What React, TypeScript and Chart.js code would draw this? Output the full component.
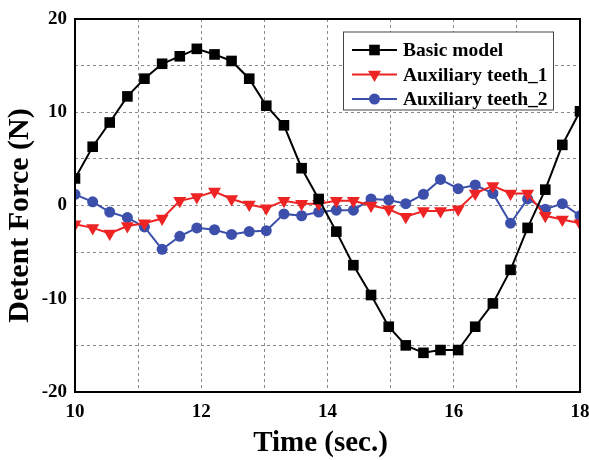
import React, { useEffect, useRef } from "react";
import { Chart, registerables } from "chart.js";

Chart.register(...registerables);

const timeSec = [
  10, 10.28, 10.55, 10.83, 11.1, 11.38, 11.66, 11.93, 12.21, 12.48,
  12.76, 13.03, 13.31, 13.59, 13.86, 14.14, 14.41, 14.69, 14.97, 15.24,
  15.52, 15.79, 16.07, 16.34, 16.62, 16.9, 17.17, 17.45, 17.72, 18,
];
const basicModel = [
  2.9, 6.3, 8.9, 11.7, 13.6, 15.2, 16.0, 16.8, 16.2, 15.5,
  13.6, 10.7, 8.6, 4.0, 0.7, -2.8, -6.4, -9.6, -13.0, -15.0,
  -15.8, -15.5, -15.5, -13.0, -10.5, -6.9, -2.4, 1.7, 6.5, 10.1,
];
const auxTeeth1 = [
  -2.0, -2.4, -3.0, -2.2, -1.9, -1.4, 0.5, 0.9, 1.5, 0.7,
  0.1, -0.3, 0.5, 0.2, 0.2, 0.5, 0.5, 0.0, -0.4, -1.2,
  -0.6, -0.6, -0.4, 1.3, 2.1, 1.3, 1.3, -1.1, -1.5, -1.9,
];
const auxTeeth2 = [
  1.2, 0.4, -0.7, -1.3, -2.3, -4.7, -3.3, -2.4, -2.6, -3.1,
  -2.8, -2.7, -0.9, -1.1, -0.7, -0.5, -0.5, 0.7, 0.6, 0.2,
  1.2, 2.8, 1.8, 2.2, 1.3, -1.9, 0.7, -0.4, 0.2, -1.1,
];
const seriesNames = ["Basic model", "Auxiliary teeth_1", "Auxiliary teeth_2"];
const xTitle = "Time (sec.)";
const yTitle = "Detent Force (N)";

const FONT = "'Liberation Serif', 'Times New Roman', serif";

const framePlugin = {
  id: "frame",
  afterDatasetsDraw(chart: any) {
    const { ctx, chartArea: a } = chart;
    ctx.save();
    ctx.strokeStyle = "#000";
    ctx.lineWidth = 2;
    ctx.strokeRect(a.left, a.top, a.right - a.left, a.bottom - a.top);
    ctx.restore();
  },
};

const titlesPlugin = {
  id: "titles",
  afterDraw(chart: any) {
    const { ctx, chartArea: a } = chart;
    ctx.save();
    ctx.fillStyle = "#000";
    ctx.font = `bold 29px ${FONT}`;
    ctx.textAlign = "center";
    ctx.textBaseline = "alphabetic";
    ctx.fillText(xTitle, (a.left + a.right) / 2 - 7, 451);
    ctx.translate(28, (a.top + a.bottom) / 2 + 10);
    ctx.rotate(-Math.PI / 2);
    ctx.font = `bold 30px ${FONT}`;
    ctx.fillText(yTitle, 0, 0);
    ctx.restore();
  },
};

function drawMarker(ctx: CanvasRenderingContext2D, ds: any, x: number, y: number) {
  const r = ds.pointRadius;
  ctx.beginPath();
  if (ds.pointStyle === "rect") {
    const s = Math.SQRT1_2 * r;
    ctx.rect(x - s, y - s, 2 * s, 2 * s);
  } else if (ds.pointStyle === "triangle") {
    ctx.moveTo(x, y + r);
    ctx.lineTo(x + Math.sin(Math.PI / 3) * r, y - r / 2);
    ctx.lineTo(x - Math.sin(Math.PI / 3) * r, y - r / 2);
    ctx.closePath();
  } else {
    ctx.arc(x, y, r, 0, Math.PI * 2);
  }
  ctx.fill();
}

const legendPlugin = {
  id: "boxLegend",
  afterDraw(chart: any) {
    const { ctx } = chart;
    const x0 = 343.5, y0 = 32, w = 210, h = 78;
    ctx.save();
    ctx.fillStyle = "#fff";
    ctx.fillRect(x0, y0, w, h);
    ctx.strokeStyle = "#444";
    ctx.lineWidth = 1;
    ctx.strokeRect(x0, y0, w, h);
    chart.data.datasets.forEach((ds: any, i: number) => {
      const cy = 50 + i * 24.5;
      ctx.strokeStyle = ds.borderColor;
      ctx.lineWidth = ds.borderWidth;
      ctx.beginPath();
      ctx.moveTo(352, cy);
      ctx.lineTo(397, cy);
      ctx.stroke();
      ctx.fillStyle = ds.pointBackgroundColor;
      drawMarker(ctx, ds, 374.5, cy);
      ctx.fillStyle = "#000";
      ctx.font = `bold 19.5px ${FONT}`;
      ctx.textAlign = "left";
      ctx.textBaseline = "middle";
      ctx.fillText(ds.label, 403, cy + 1);
    });
    ctx.restore();
  },
};

function toPoints(values: number[]) {
  return values.map((v, i) => ({ x: timeSec[i], y: v }));
}

export default function App() {
  const ref = useRef<HTMLCanvasElement | null>(null);

  useEffect(() => {
    if (!ref.current) return;
    const chart = new Chart(ref.current, {
      type: "line",
      data: {
        datasets: [
          {
            label: seriesNames[0],
            data: toPoints(basicModel),
            borderColor: "#000000",
            backgroundColor: "#000000",
            pointBackgroundColor: "#000000",
            pointBorderColor: "#000000",
            borderWidth: 2,
            pointStyle: "rect",
            pointRadius: 7.5,
            pointBorderWidth: 0,
            tension: 0,
          },
          {
            label: seriesNames[1],
            data: toPoints(auxTeeth1),
            borderColor: "#ee2424",
            backgroundColor: "#ee2424",
            pointBackgroundColor: "#ee2424",
            pointBorderColor: "#ee2424",
            borderWidth: 2,
            pointStyle: "triangle",
            pointRotation: 180,
            pointRadius: 7.5,
            pointBorderWidth: 0,
            tension: 0,
          },
          {
            label: seriesNames[2],
            data: toPoints(auxTeeth2),
            borderColor: "#3b4fab",
            backgroundColor: "#3b4fab",
            pointBackgroundColor: "#3b4fab",
            pointBorderColor: "#3b4fab",
            borderWidth: 2,
            pointStyle: "circle",
            pointRadius: 5.5,
            pointBorderWidth: 0,
            tension: 0,
          },
        ] as any,
      },
      options: {
        animation: false,
        responsive: false,
        events: [],
        layout: { padding: { top: 19, right: 9, left: 0, bottom: 0 } },
        plugins: {
          legend: { display: false },
          tooltip: { enabled: false },
        },
        scales: {
          x: {
            type: "linear",
            min: 10,
            max: 18,
            afterFit(scale: any) {
              scale.height = 68;
              scale.paddingLeft = 0;
              scale.paddingRight = 0;
            },
            grid: { color: "#8a8a8a", lineWidth: 1, drawTicks: false },
            border: { display: false, dash: [3, 3] },
            ticks: {
              stepSize: 1,
              padding: 9,
              color: "#000",
              font: { family: FONT, size: 19, weight: "bold" },
              maxRotation: 0,
              autoSkip: false,
              callback: (v: any) => (Number(v) % 2 === 0 ? String(v) : ""),
            },
          },
          y: {
            type: "linear",
            min: -20,
            max: 20,
            afterFit(scale: any) {
              scale.width = 75;
              scale.paddingTop = 0;
              scale.paddingBottom = 0;
            },
            grid: { color: "#8a8a8a", lineWidth: 1, drawTicks: false },
            border: { display: false, dash: [3, 3] },
            ticks: {
              stepSize: 5,
              padding: 8,
              color: "#000",
              font: { family: FONT, size: 19, weight: "bold" },
              autoSkip: false,
              callback: (v: any) => (Number(v) % 10 === 0 ? String(v) : ""),
            },
          },
        },
      } as any,
      plugins: [framePlugin, titlesPlugin, legendPlugin],
    });
    return () => chart.destroy();
  }, []);

  return (
    <div style={{ position: "absolute", left: 0, top: 0, width: 589, height: 460, background: "#fff" }}>
      <canvas ref={ref} width={589} height={460} />
    </div>
  );
}
